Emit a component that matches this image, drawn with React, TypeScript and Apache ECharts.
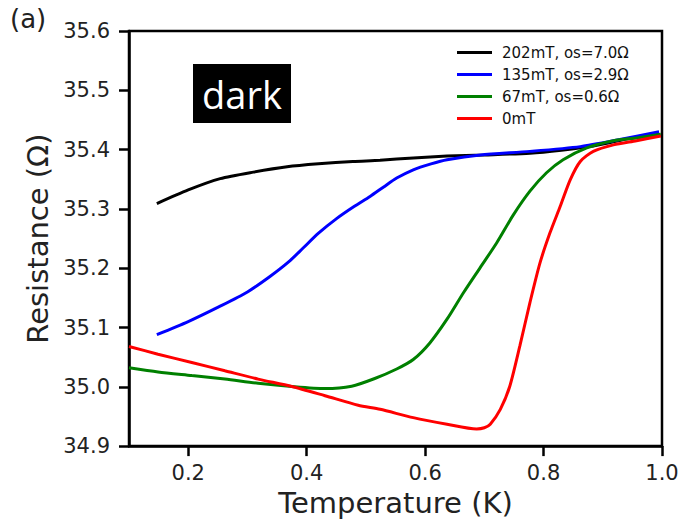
import React, { useEffect, useRef } from "react";
import * as echarts from "echarts";

// Temperature (K) / Resistance (Ω) samples
const t202 = [0.147, 0.2, 0.254, 0.31, 0.367, 0.42, 0.478, 0.524, 0.58, 0.637, 0.7, 0.777, 0.83, 0.884, 0.946, 0.995];
const r202 = [35.309, 35.332, 35.351, 35.362, 35.371, 35.376, 35.38, 35.382, 35.386, 35.389, 35.391, 35.394, 35.399, 35.406, 35.419, 35.428];

const t135 = [0.147, 0.2, 0.254, 0.3, 0.338, 0.37, 0.394, 0.42, 0.451, 0.48, 0.507, 0.53, 0.552, 0.58, 0.61, 0.637, 0.693, 0.777, 0.862, 0.929, 0.995];
const r135 = [35.088, 35.11, 35.136, 35.16, 35.186, 35.211, 35.234, 35.259, 35.284, 35.304, 35.321, 35.337, 35.352, 35.366, 35.376, 35.383, 35.391, 35.397, 35.405, 35.417, 35.43];

const t67 = [0.1, 0.149, 0.206, 0.262, 0.318, 0.375, 0.431, 0.476, 0.515, 0.552, 0.58, 0.608, 0.637, 0.665, 0.693, 0.721, 0.749, 0.777, 0.805, 0.833, 0.873, 0.918, 0.96, 0.998];
const r67 = [35.032, 35.025, 35.019, 35.013, 35.006, 35.0005, 34.997, 35.001, 35.014, 35.03, 35.046, 35.074, 35.114, 35.159, 35.201, 35.243, 35.29, 35.33, 35.361, 35.383, 35.403, 35.415, 35.42, 35.426];

const t0 = [0.1, 0.149, 0.206, 0.262, 0.318, 0.375, 0.431, 0.487, 0.524, 0.58, 0.637, 0.687, 0.7, 0.71, 0.727, 0.743, 0.76, 0.777, 0.794, 0.811, 0.828, 0.845, 0.862, 0.884, 0.918, 0.957, 0.998];
const r0 = [35.068, 35.055, 35.041, 35.027, 35.013, 35.0005, 34.985, 34.969, 34.962, 34.948, 34.937, 34.929, 34.931, 34.937, 34.962, 35.001, 35.069, 35.142, 35.209, 35.26, 35.304, 35.349, 35.38, 35.397, 35.408, 35.415, 35.423];

const seriesNames = ["202mT, os=7.0Ω", "135mT, os=2.9Ω", "67mT, os=0.6Ω", "0mT"];
const seriesColors = ["#000000", "#0000ff", "#008000", "#ff0000"];
const xTicks = [0.2, 0.4, 0.6, 0.8, 1.0];

const zip = (xs: number[], ys: number[]) => xs.map((x, i) => [x, ys[i]]);

export default function App() {
  const ref = useRef<HTMLDivElement>(null);
  useEffect(() => {
    if (!ref.current) return;
    const chart = echarts.init(ref.current, null, { renderer: "svg" });
    const font = "DejaVu Sans";
    const dataSets = [zip(t202, r202), zip(t135, r135), zip(t67, r67), zip(t0, r0)];
    chart.setOption({
      animation: false,
      backgroundColor: "#ffffff",
      textStyle: { fontFamily: font },
      grid: {
        left: 129, right: 21, top: 31, bottom: 75,
        show: true, borderColor: "#000", borderWidth: 2.5, backgroundColor: "transparent",
      },
      legend: {
        orient: "vertical",
        left: 457,
        top: 45,
        padding: 0,
        itemGap: 7,
        itemWidth: 35,
        itemHeight: 3,
        icon: "rect",
        data: seriesNames,
        textStyle: { fontSize: 15, color: "#111", fontFamily: font, padding: [0, 0, 0, 5] },
      },
      xAxis: {
        type: "value",
        min: 0.1,
        max: 1.0,
        name: "Temperature (K)",
        nameLocation: "middle",
        nameGap: 41,
        nameTextStyle: { fontSize: 29, color: "#222", fontFamily: font },
        axisLine: { show: true, lineStyle: { color: "#000", width: 2.5 } },
        axisTick: { show: true, length: 10, customValues: xTicks, lineStyle: { color: "#000", width: 2.5 } },
        axisLabel: {
          customValues: xTicks,
          fontSize: 21, color: "#222", margin: 16,
          formatter: (v: number) => v.toFixed(1),
        },
        splitLine: { show: false },
      },
      yAxis: {
        type: "value",
        min: 34.9,
        max: 35.6,
        interval: 0.1,
        name: "Resistance (Ω)",
        nameLocation: "middle",
        nameGap: 73,
        nameTextStyle: { fontSize: 29, color: "#222", fontFamily: font },
        axisLine: { show: true, lineStyle: { color: "#000", width: 2.5 } },
        axisTick: { show: true, length: 10, lineStyle: { color: "#000", width: 2.5 } },
        axisLabel: {
          fontSize: 21, color: "#222", margin: 19,
          formatter: (v: number) => v.toFixed(1),
        },
        splitLine: { show: false },
      },
      series: seriesNames.map((name, i) => ({
        name,
        type: "line",
        data: dataSets[i],
        showSymbol: false,
        symbol: "none",
        smooth: 0.25,
        color: seriesColors[i],
        lineStyle: { color: seriesColors[i], width: 3 },
        z: 3 + i,
      })),
      graphic: [
        {
          type: "text",
          left: 10,
          top: 6,
          style: { text: "(a)", fontSize: 26, fontFamily: font, fill: "#222" },
        },
        {
          type: "group",
          left: 193,
          top: 64,
          children: [
            { type: "rect", shape: { x: 0, y: 0, width: 98, height: 59 }, style: { fill: "#000" } },
            {
              type: "text",
              x: 49,
              y: 30,
              style: {
                text: "dark", fontSize: 38, fontFamily: "Open Sans", fill: "#fff",
                align: "center", verticalAlign: "middle",
              },
            },
          ],
        },
      ],
    });
    return () => chart.dispose();
  }, []);
  return (
    <div
      ref={ref}
      style={{ position: "absolute", left: 0, top: 0, width: 683, height: 522 }}
    />
  );
}
